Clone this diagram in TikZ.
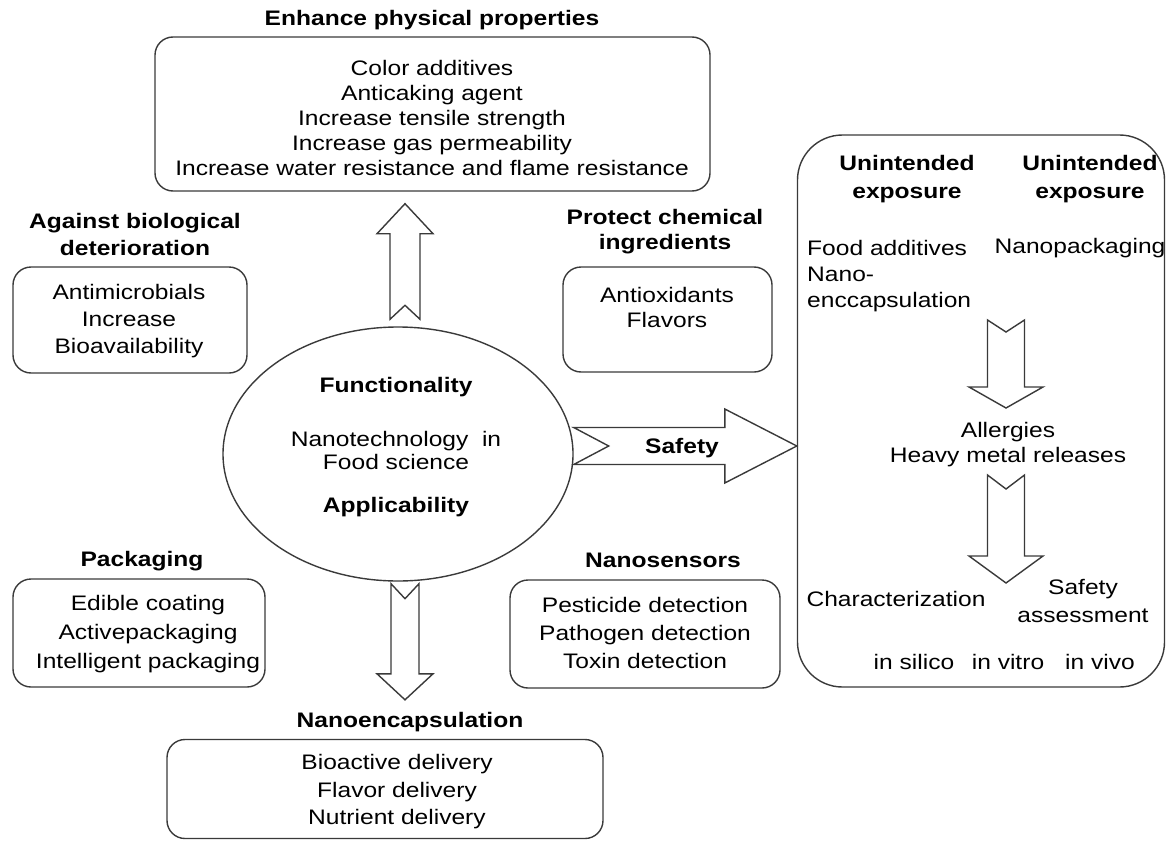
\documentclass[tikz,border=0pt]{standalone}
\usepackage{fontspec}
\setmainfont{Liberation Sans}[FakeStretch=1.17]
\usepackage{tikz}
\usetikzlibrary{shapes.geometric, calc}
\definecolor{line_gray}{HTML}{3a3a3a}

% tail, tip, shaft half width, head half width, head length, notch depth
\newcommand{\fatarrow}[6]{%
  \coordinate (fa-c) at ($(#2)!#5!(#1)$);
  \draw[fat] ($(#1)!#3!90:(#2)$) -- ($(fa-c)!#3!90:(#2)$) -- ($(fa-c)!#4!90:(#2)$) -- (#2)
    -- ($(fa-c)!#4!-90:(#2)$) -- ($(fa-c)!#3!-90:(#2)$) -- ($(#1)!#3!-90:(#2)$)
    -- ($(#1)!#6!(#2)$) -- cycle;
}

\begin{document}
\begin{tikzpicture}[x=1pt, y=-1pt,
    box/.style = {draw=line_gray, line width=1.4pt, rounded corners=18pt, inner sep=0pt},
    fat/.style = {draw=line_gray, line width=1.4pt, fill=white, line join=miter},
    txt/.style = {align=center, inner sep=0pt, font=\fontsize{21}{#1}\selectfont},
    txt/.default = 27,
    hd/.style = {align=center, inner sep=0pt, font=\fontsize{21}{#1}\selectfont\bfseries},
    hd/.default = 27]
  \useasboundingbox (0,0) rectangle (1167,843);

  % boxes
  \node[box, minimum width=555pt, minimum height=154pt] (boxTop) at (432.5,114) {};
  \node[box, minimum width=234pt, minimum height=106pt] (boxBio) at (130,320) {};
  \node[box, minimum width=209pt, minimum height=105pt] (boxChem) at (667.5,319.5) {};
  \node[box, minimum width=252pt, minimum height=108pt] (boxPack) at (139,633) {};
  \node[box, minimum width=270pt, minimum height=108pt] (boxSens) at (645,634) {};
  \node[box, minimum width=436pt, minimum height=99pt] (boxEnc) at (385,789) {};
  \node[box, rounded corners=45pt, minimum width=367pt, minimum height=552pt] (panel) at (981,411) {};
  \node[draw=line_gray, line width=1.4pt, ellipse, inner sep=0pt,
        minimum width=350pt, minimum height=254pt] (core) at (398,454) {};

  % arrows
  \coordinate (upA) at ($(core.north)+(7,-7)$);
  \coordinate (upB) at ($(boxTop.south)+(-27.5,12)$);
  \coordinate (dnA) at ($(core.south)+(7,2)$);
  \coordinate (dnB) at ($(boxEnc.north)+(20,-39)$);
  \coordinate (sfA) at ($(core.east)+(0,-8)$);
  \coordinate (sfB) at (panel.west |- sfA);
  \coordinate (stepA) at (1006,320);
  \coordinate (stepB) at (1006,408);
  \coordinate (stepC) at (1006,475);
  \coordinate (stepD) at (1006,583);
  \fatarrow{upA}{upB}{15pt}{28pt}{30pt}{14pt}
  \fatarrow{dnA}{dnB}{14pt}{28pt}{26pt}{15pt}
  \fatarrow{sfA}{sfB}{18.5pt}{37pt}{72pt}{35pt}
  \fatarrow{stepA}{stepB}{18.5pt}{37pt}{21pt}{12pt}
  \fatarrow{stepC}{stepD}{18.5pt}{37pt}{27pt}{14pt}

  % headings
  \node[hd] (hTop) at (432,20) {Enhance physical properties};
  \node[hd] (hBio) at (135,234) {Against biological\\deterioration};
  \node[hd=25] (hChem) at (665,232) {Protect chemical\\ingredients};
  \node[hd] (hPack) at (142,561) {Packaging};
  \node[hd] (hSens) at (663,560) {Nanosensors};
  \node[hd] (hEnc) at (410,722) {Nanoencapsulation};

  % box texts
  \node[txt=25] (tTop) at (432,118) {Color additives\\Anticaking agent\\Increase tensile strength\\Increase gas permeability\\Increase water resistance and flame resistance};
  \node[txt] (tBio) at (129,321) {Antimicrobials\\Increase\\Bioavailability};
  \node[txt=25] (tChem) at (667,307) {Antioxidants\\Flavors};
  \node[txt=29] (tPack) at (148,634) {Edible coating\\Activepackaging\\Intelligent packaging};
  \node[txt=28] (tSens) at (645,633) {Pesticide detection\\Pathogen detection\\Toxin detection};
  \node[txt=27.5] (tEnc) at (397,792) {Bioactive delivery\\Flavor delivery\\Nutrient delivery};

  % centre
  \node[hd] (fun) at (396,387) {Functionality};
  \node[txt=23] (nano) at (396,450) {Nanotechnology\ \ in\\Food science};
  \node[hd] (app) at (396,507) {Applicability};
  \node[hd] (safe) at (682,448) {Safety};

  % safety panel
  \node[hd=28] (expoL) at (907,179) {Unintended\\exposure};
  \node[hd=28] (expoR) at (1090,179) {Unintended\\exposure};
  \node[txt, anchor=west] (food) at (807,276) {\begin{tabular}{@{}l@{}}Food additives\\[-1pt]Nano-\\[-1pt]enccapsulation\end{tabular}};
  \node[txt] (npack) at (1080,248) {Nanopackaging};
  \node[txt=25] (allg) at (1008,445) {Allergies\\Heavy metal releases};
  \node[txt] (char) at (896,599) {Characterization};
  \node[txt=28] (sass) at (1083,601) {Safety\\assessment};
  \node[txt] (silico) at (914,662) {in silico};
  \node[txt] (vitro) at (1008,662) {in vitro};
  \node[txt] (vivo) at (1100,662) {in vivo};
\end{tikzpicture}
\end{document}
